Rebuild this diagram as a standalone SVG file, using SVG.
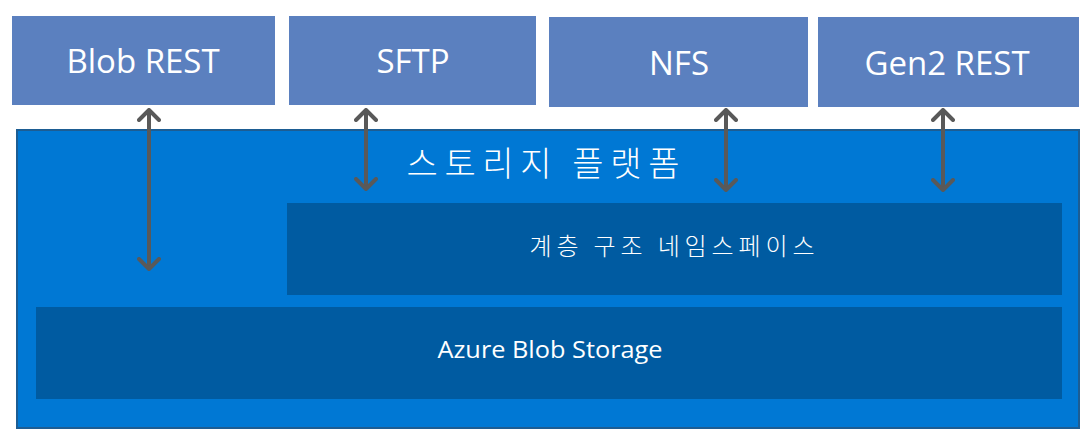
<svg xmlns="http://www.w3.org/2000/svg" width="1090" height="439" viewBox="0 0 1090 439">
<defs>
<style>
.proto{fill:#5b80bf}
.plat{fill:#0078d4;stroke:#1d5d93;stroke-width:2}
.inner{fill:#005ba1}
.lbl{font-family:"Open Sans","Noto Sans",sans-serif;fill:#ffffff;text-anchor:middle}
.kr{font-family:"Noto Sans CJK KR",sans-serif;fill:#ffffff;text-anchor:middle;font-weight:300}
.conn{stroke:#595959;stroke-width:4;fill:none}
</style>
<marker id="ah" viewBox="0 0 14 24" refX="13" refY="12" markerWidth="14" markerHeight="24" markerUnits="userSpaceOnUse" orient="auto-start-reverse">
<path d="M2,2 L12,12 L2,22" fill="none" stroke="#595959" stroke-width="4" stroke-linecap="round" stroke-linejoin="round"/>
</marker>
</defs>
<rect width="1090" height="439" fill="#ffffff"/>
<g id="platform">
<rect class="plat" x="17" y="130" width="1062" height="298"/>
<text class="kr" x="543" y="176" font-size="34" textLength="273" lengthAdjust="spacing">스토리지 플랫폼</text>
</g>
<g id="blob-rest">
<rect class="proto" x="12" y="16" width="263" height="89"/>
<text class="lbl" x="143" y="73" font-size="33">Blob REST</text>
</g>
<g id="sftp">
<rect class="proto" x="289" y="16" width="247" height="89"/>
<text class="lbl" x="413" y="73" font-size="33">SFTP</text>
</g>
<g id="nfs">
<rect class="proto" x="549" y="17" width="259" height="90"/>
<text class="lbl" x="679" y="75" font-size="33">NFS</text>
</g>
<g id="gen2-rest">
<rect class="proto" x="818" y="17" width="261" height="90"/>
<text class="lbl" x="947" y="75" font-size="33">Gen2 REST</text>
</g>
<g id="hierarchical-namespace">
<rect class="inner" x="287" y="203" width="775" height="92"/>
<text class="kr" x="672" y="255" font-size="24" textLength="285" lengthAdjust="spacing">계층 구조 네임스페이스</text>
</g>
<g id="azure-blob-storage">
<rect class="inner" x="36" y="307" width="1026" height="92"/>
<text class="lbl" x="550" y="358" font-size="24" textLength="225" lengthAdjust="spacingAndGlyphs">Azure Blob Storage</text>
</g>
<g id="connectors">
<line class="conn" x1="149" y1="109" x2="149" y2="270" marker-start="url(#ah)" marker-end="url(#ah)"/>
<line class="conn" x1="366" y1="109" x2="366" y2="190" marker-start="url(#ah)" marker-end="url(#ah)"/>
<line class="conn" x1="726" y1="109" x2="726" y2="191" marker-start="url(#ah)" marker-end="url(#ah)"/>
<line class="conn" x1="943" y1="109" x2="943" y2="191" marker-start="url(#ah)" marker-end="url(#ah)"/>
</g>
</svg>
